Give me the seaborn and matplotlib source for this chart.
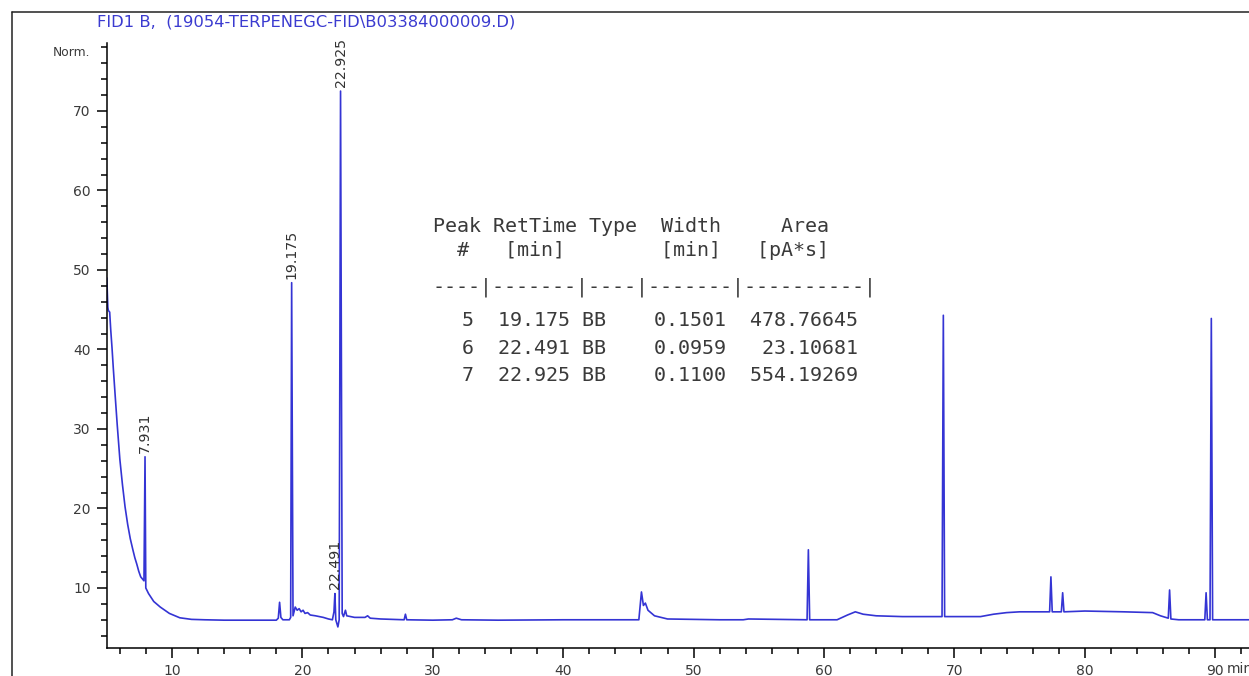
import numpy as np
import pandas as pd
import matplotlib
matplotlib.use("Agg")
import matplotlib.pyplot as plt
import seaborn as sns
from matplotlib.lines import Line2D
from matplotlib.ticker import MultipleLocator

# ---------------- data ----------------
time_min = [5.00, 5.08, 5.12, 5.22, 5.30, 5.40, 5.50, 5.65, 5.80, 6.00, 6.20, 6.40,
            6.60, 6.80, 7.00, 7.15, 7.30, 7.45, 7.60,
            7.85, 7.931, 7.99, 8.20, 8.60, 9.10, 9.80, 10.60, 11.50, 12.50, 14.00,
            16.00, 18.00, 18.15, 18.25, 18.35, 18.50, 19.00, 19.10, 19.175, 19.28,
            19.45, 19.60, 19.75, 19.90, 20.05, 20.20, 20.40, 20.60, 21.00, 21.60,
            22.00, 22.30, 22.42, 22.491, 22.56, 22.72, 22.82, 22.925, 23.05, 23.15,
            23.30, 23.40, 24.00, 24.80, 25.00, 25.20, 26.00, 27.80, 27.90, 28.00,
            30.00, 31.50, 31.80, 32.20, 35.00, 40.00, 45.80, 46.00, 46.15, 46.30,
            46.50, 47.00, 48.00, 52.00, 53.80, 54.20, 58.70, 58.80, 58.90, 61.00,
            61.80, 62.40, 63.00, 64.00, 66.00, 69.05, 69.15, 69.25, 72.00, 73.00,
            74.00, 75.00, 77.30, 77.40, 77.50, 78.20, 78.30, 78.40, 80.00, 83.00,
            85.20, 85.80, 86.40, 86.50, 86.60, 87.20, 89.20, 89.30, 89.40, 89.60,
            89.70, 89.80, 92.60]
signal_norm = [49.0, 45.3, 44.9, 44.7, 42.5, 40.2, 37.6, 34.0, 30.5, 26.2, 23.0, 20.2,
               18.0, 16.2, 14.8, 13.8, 13.0, 12.1, 11.4,
               10.9, 26.5, 10.0, 9.3, 8.3, 7.6, 6.8, 6.25, 6.05, 6.0, 5.95,
               5.95, 5.95, 6.2, 8.2, 6.3, 6.0, 6.0, 6.3, 48.4, 6.5,
               7.6, 7.2, 7.4, 7.0, 7.2, 6.8, 6.9, 6.6, 6.5, 6.3,
               6.1, 6.0, 7.0, 9.3, 6.0, 5.1, 6.0, 72.5, 6.8, 6.4,
               7.2, 6.5, 6.3, 6.3, 6.5, 6.2, 6.1, 6.0, 6.7, 6.0,
               5.95, 6.0, 6.2, 6.0, 5.95, 6.0, 6.0, 9.5, 7.8, 8.1,
               7.2, 6.5, 6.1, 6.0, 6.0, 6.1, 6.0, 14.8, 6.0, 6.0,
               6.6, 7.0, 6.7, 6.5, 6.4, 6.4, 44.3, 6.4, 6.4, 6.7,
               6.9, 7.0, 7.0, 11.4, 7.0, 7.0, 9.4, 7.0, 7.1, 7.0,
               6.9, 6.5, 6.2, 9.75, 6.1, 6.0, 6.0, 9.4, 6.0, 6.0,
               43.9, 6.0, 6.0]

peak_rt = [7.931, 19.175, 22.491, 22.925]
peak_top = [26.5, 48.4, 9.3, 72.5]
peak_labels = ["7.931", "19.175", "22.491", "22.925"]

x_ticks = [10, 20, 30, 40, 50, 60, 70, 80, 90]
y_ticks = [10, 20, 30, 40, 50, 60, 70]

title_text = "FID1 B,  (19054-TERPENEGC-FID\\B03384000009.D)"
y_unit = "Norm."
x_unit = "min"

table_header = ["Peak RetTime Type  Width     Area",
                "  #   [min]        [min]   [pA*s]",
                "----|-------|----|-------|----------|"]
table_rows = ["   5  19.175 BB    0.1501  478.76645",
              "   6  22.491 BB    0.0959   23.10681",
              "   7  22.925 BB    0.1100  554.19269"]

# ---------------- figure ----------------
sns.set_theme(style="white")
plt.rcParams['font.family'] = ['DejaVu Sans']

W, H = 1249, 676
fig = plt.figure(figsize=(W / 100, H / 100), dpi=100)
fig.patch.set_facecolor("white")

def fx(px):
    return px / W

def fy(py):
    return 1 - py / H

ax_left, ax_bottom_px, ax_top_px = 107, 648, 43
ax = fig.add_axes([fx(ax_left), fy(ax_bottom_px), 1 - fx(ax_left),
                   fy(ax_top_px) - fy(ax_bottom_px)])
ax.set_facecolor("white")

df = pd.DataFrame({"time": time_min, "signal": signal_norm})
trace_color = "#3434d4"
sns.lineplot(data=df, x="time", y="signal", ax=ax, estimator=None, sort=False,
             color=trace_color, linewidth=1.2)

ax.set_xlim(5.015, 92.59)
ax.set_ylim(2.45, 78.55)
ax.set_xlabel("")
ax.set_ylabel("")

ax.set_xticks(x_ticks)
ax.set_yticks(y_ticks)
ax.xaxis.set_minor_locator(MultipleLocator(2))
ax.yaxis.set_minor_locator(MultipleLocator(2))
ax.tick_params(which="major", length=7.2, width=1.1, color="black",
               labelsize=10, labelcolor="#3a3a3a", pad=4.5,
               bottom=True, left=True)
ax.tick_params(which="minor", length=4.6, width=1.1, color="black",
               bottom=True, left=True)
ax.tick_params(axis="x", pad=4)

for s in ["top", "right"]:
    ax.spines[s].set_visible(False)
for s in ["left", "bottom"]:
    ax.spines[s].set_color("black")
    ax.spines[s].set_linewidth(1.1)

# peak labels
for rt, top, lab in zip(peak_rt, peak_top, peak_labels):
    ax.annotate(lab, xy=(rt, top), xytext=(0, 3), textcoords="offset points",
                rotation=90, ha="center", va="bottom", fontsize=10.2,
                color="#333333")

# outer frame
fig.add_artist(Line2D([fx(12), fx(12)], [0, fy(12)], color="#222222", lw=1.1))
fig.add_artist(Line2D([fx(12), 1], [fy(12), fy(12)], color="#222222", lw=1.1))

# title and units
fig.text(fx(97), fy(22), title_text, ha="left", va="center", fontsize=11.8,
         color="#3b3bd0")
fig.text(fx(90), fy(52), y_unit, ha="right", va="center", fontsize=8.8,
         color="#3a3a3a")
fig.text(fx(1227), fy(669), x_unit, ha="left", va="center", fontsize=10,
         color="#3a3a3a")

# integration table
mono = "DejaVu Sans Mono"
header_y = [226, 250, 287]
row_y = [321, 348, 376]
for line, yy in zip(table_header, header_y):
    fig.text(fx(432.8), fy(yy), line, ha="left", va="center", fontsize=14.4,
             family=mono, color="#3a3a3a")
for line, yy in zip(table_rows, row_y):
    fig.text(fx(426), fy(yy), line, ha="left", va="center", fontsize=14.4,
             family=mono, color="#3a3a3a")

fig.savefig("out.png", dpi=100, facecolor="white")
